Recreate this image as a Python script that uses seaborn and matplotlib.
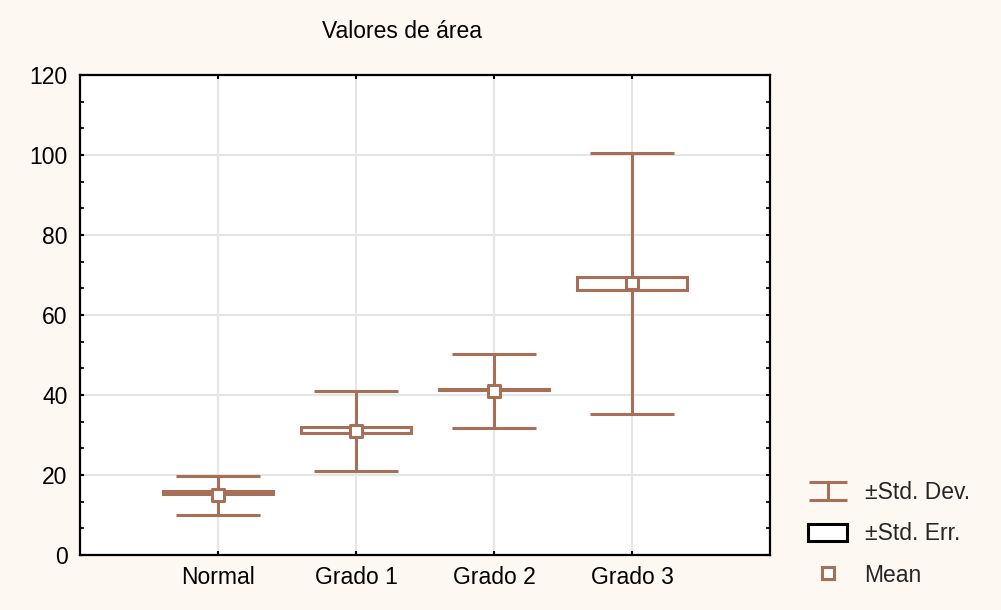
import numpy as np
import matplotlib
matplotlib.use('Agg')
import matplotlib.pyplot as plt
import seaborn as sns
from matplotlib.path import Path
from matplotlib.lines import Line2D
from matplotlib.patches import Rectangle
from matplotlib.ticker import MultipleLocator

# Datos
grupos = ['Normal', 'Grado 1', 'Grado 2', 'Grado 3']
media = np.array([15.0, 31.0, 40.9, 68.0])
de_min = np.array([10.0, 21.0, 31.8, 35.3])    # -Std. Dev.
de_max = np.array([19.8, 41.0, 50.3, 100.6])   # +Std. Dev.
ee_min = np.array([15.3, 30.6, 41.2, 66.2])    # -Std. Err.
ee_max = np.array([15.9, 31.9, 41.6, 69.6])    # +Std. Err.

fondo = '#FDF8F2'
marron = '#A86F58'

sns.set_theme(style='white')
plt.rcParams['font.family'] = ['Liberation Sans', 'DejaVu Sans']

fig = plt.figure(figsize=(10.01, 6.10), dpi=100, facecolor=fondo)
ax = fig.add_axes([80 / 1001, 55 / 610, 690 / 1001, 480 / 610])
ax.set_facecolor('white')

x = np.arange(len(grupos))

# Caja del error estándar
ax.bar(x, ee_max - ee_min, bottom=ee_min, width=0.8, color='white',
       edgecolor=marron, linewidth=2.2, zorder=3)

# Barras de desviación estándar
ax.errorbar(x, media, yerr=[media - de_min, de_max - media], fmt='none',
            ecolor=marron, elinewidth=2.2, capsize=30, capthick=2.2, zorder=4)

# Medias
sns.scatterplot(x=x, y=media, marker='s', s=70, color='white',
                edgecolor=marron, linewidth=2.2, zorder=5, ax=ax, legend=False)

ax.set_xlim(-1, 4)
ax.set_ylim(0, 120)
ax.set_xticks(x)
ax.set_xticklabels(grupos)
ax.set_yticks(np.arange(0, 121, 20))
ax.yaxis.set_minor_locator(MultipleLocator(20 / 3))
ax.grid(True, color='#E6E6E6', linewidth=1.5)
ax.set_axisbelow(True)
for s in ax.spines.values():
    s.set_color('black')
    s.set_linewidth(1.6)
ax.tick_params(which='major', direction='in', length=3, width=1.5,
               left=True, right=True, top=True, bottom=True,
               labelsize=16.5, colors='black')
ax.tick_params(axis='y', which='minor', direction='in', length=3, width=1.5,
               left=True, right=True)
ax.tick_params(axis='y', pad=9)
ax.tick_params(axis='x', pad=8)

fig.text(402 / 1001, 1 - 31 / 610, 'Valores de área', ha='center', va='center',
         fontsize=16.5, color='black')

# Leyenda
ibeam = Path([(-1, 0.48), (1, 0.48), (0, 0.48), (0, -0.48), (-1, -0.48), (1, -0.48)],
             [Path.MOVETO, Path.LINETO, Path.MOVETO, Path.LINETO, Path.MOVETO, Path.LINETO])
h_de = Line2D([], [], linestyle='none', marker=ibeam, markersize=28,
              markeredgecolor=marron, markeredgewidth=2.2)
h_ee = Rectangle((0, 0), 1, 1, facecolor='white', edgecolor='black', linewidth=2.2)
h_media = Line2D([], [], linestyle='none', marker='s', markersize=8,
                 markerfacecolor='white', markeredgecolor=marron, markeredgewidth=2.2)
fig.legend([h_de, h_ee, h_media], ['±Std. Dev.', '±Std. Err.', 'Mean'],
           loc='upper left', bbox_to_anchor=(808 / 1001, 1 - 481 / 610),
           frameon=False, fontsize=16.5, handlelength=1.72, handleheight=0.8,
           handletextpad=0.75, labelspacing=0.8, borderpad=0, borderaxespad=0,
           numpoints=1)

fig.savefig('out.png', dpi=100, facecolor=fondo)
